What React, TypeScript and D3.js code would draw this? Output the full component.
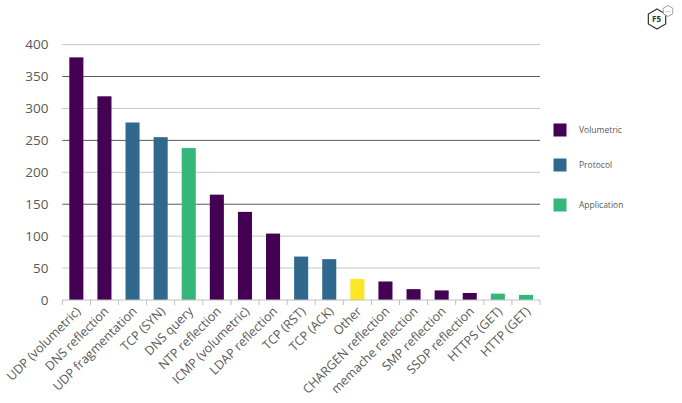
import React, { useRef, useEffect } from 'react';
import * as d3 from 'd3';

const categories = [
  'UDP (volumetric)', 'DNS reflection', 'UDP fragmentation', 'TCP (SYN)', 'DNS query',
  'NTP reflection', 'ICMP (volumetric)', 'LDAP reflection', 'TCP (RST)', 'TCP (ACK)',
  'Other', 'CHARGEN reflection', 'memache reflection', 'SMP reflection', 'SSDP reflection',
  'HTTPS (GET)', 'HTTP (GET)',
];
const values = [380, 319, 278, 255, 238, 165, 138, 104, 68, 64, 33, 29, 17, 15, 11, 10, 8];
const kinds = [
  'Volumetric', 'Volumetric', 'Protocol', 'Protocol', 'Application',
  'Volumetric', 'Volumetric', 'Volumetric', 'Protocol', 'Protocol',
  'Other', 'Volumetric', 'Volumetric', 'Volumetric', 'Volumetric',
  'Application', 'Application',
];
const legendItems = ['Volumetric', 'Protocol', 'Application'];
const yTicks = [0, 50, 100, 150, 200, 250, 300, 350, 400];
const darkGrid = [150, 250, 350];

const colors: Record<string, string> = {
  Volumetric: '#440154',
  Protocol: '#31688e',
  Application: '#35b779',
  Other: '#fde725',
};

const W = 682, H = 403;
const font = '"Open Sans", "Noto Sans", sans-serif';

const App: React.FC = () => {
  const svgRef = useRef<SVGSVGElement | null>(null);
  useEffect(() => {
    if (!svgRef.current) return;
    const svg = d3.select(svgRef.current);
    svg.selectAll('*').remove();
    const margin = { left: 62.3, right: 540, top: 44.6, bottom: 300 };
    const x = d3.scaleBand<string>().domain(categories).range([margin.left, margin.right]).paddingInner(0.5).paddingOuter(0.25);
    const xt = d3.scaleBand<string>().domain(categories).range([margin.left, margin.right]);
    const y = d3.scaleLinear().domain([0, 400]).range([margin.bottom, margin.top]);

    // gridlines
    svg.append('g').selectAll('line').data(yTicks.filter(t => t > 0)).join('line')
      .attr('x1', margin.left).attr('x2', margin.right)
      .attr('y1', d => y(d)).attr('y2', d => y(d))
      .attr('stroke', d => darkGrid.includes(d) ? '#5a5a5a' : '#c6c6c6')
      .attr('stroke-width', 1);

    // y labels
    svg.append('g').selectAll('text').data(yTicks).join('text')
      .attr('x', 48.5).attr('y', d => y(d)).attr('dy', '0.35em')
      .attr('text-anchor', 'end').attr('font-family', font).attr('font-size', 13.5)
      .attr('fill', '#595959').text(d => d);

    // bars
    svg.append('g').selectAll('rect').data(categories).join('rect')
      .attr('x', d => x(d)!).attr('width', x.bandwidth())
      .attr('y', (d, i) => y(values[i])).attr('height', (d, i) => y(0) - y(values[i]))
      .attr('fill', (d, i) => colors[kinds[i]]);

    // x axis
    svg.append('line').attr('x1', margin.left).attr('x2', margin.right)
      .attr('y1', y(0)).attr('y2', y(0)).attr('stroke', '#bfbfbf');
    const tickPos = categories.map(c => xt(c)!).concat([margin.right]);
    svg.append('g').selectAll('line').data(tickPos).join('line')
      .attr('x1', d => d).attr('x2', d => d).attr('y1', y(0)).attr('y2', y(0) + 5)
      .attr('stroke', '#bfbfbf');

    svg.append('g').selectAll('text').data(categories).join('text')
      .attr('transform', d => `translate(${xt(d)! + xt.bandwidth() / 2 + 2},${y(0) + 9}) rotate(-45)`)
      .attr('dy', '0.35em').attr('text-anchor', 'end')
      .attr('font-family', font).attr('font-size', 12.5).attr('fill', '#595959')
      .text(d => d);

    // legend
    const legendY = [130, 165, 205];
    const lg = svg.append('g');
    legendItems.forEach((k, i) => {
      lg.append('rect').attr('x', 553.5).attr('y', legendY[i] - 6.5).attr('width', 13).attr('height', 13)
        .attr('fill', colors[k]);
      lg.append('text').attr('x', 579).attr('y', legendY[i]).attr('dy', '0.35em')
        .attr('font-family', font).attr('font-size', 8.5).attr('fill', '#595959').text(k);
    });

    // logo
    const hex = (cx: number, cy: number, r: number) =>
      d3.range(6).map(i => {
        const a = Math.PI / 3 * i - Math.PI / 2;
        return [cx + r * Math.cos(a), cy + r * Math.sin(a)] as [number, number];
      });
    const line = d3.line().curve(d3.curveLinearClosed);
    svg.append('path').attr('d', line(hex(657, 19, 10))).attr('fill', 'white')
      .attr('stroke', '#333').attr('stroke-width', 1.2);
    svg.append('text').attr('x', 656.5).attr('y', 19).attr('dy', '0.35em').attr('text-anchor', 'middle')
      .attr('font-family', font).attr('font-size', 8).attr('font-weight', 'bold').attr('fill', '#333').text('F5');
    svg.append('path').attr('d', line(hex(668, 11, 5.5))).attr('fill', 'white')
      .attr('stroke', '#888').attr('stroke-width', 0.8);
    svg.append('text').attr('x', 668).attr('y', 11).attr('dy', '0.35em').attr('text-anchor', 'middle')
      .attr('font-family', font).attr('font-size', 2.5).attr('fill', '#888').text('Labs');
  }, []);
  return (
    <svg ref={svgRef} width={W} height={H} viewBox={`0 0 ${W} ${H}`}
      style={{ position: 'absolute', left: 0, top: 0, background: 'white' }} />
  );
};

export default App;
